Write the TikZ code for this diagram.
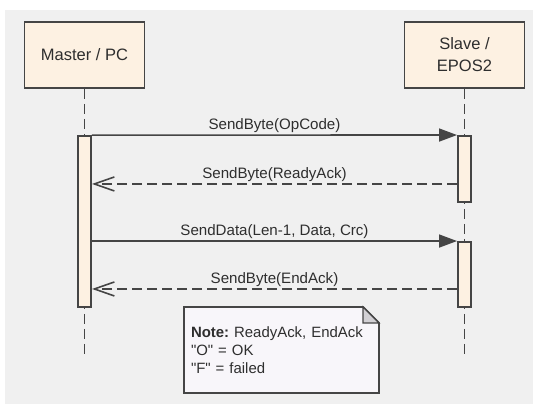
\documentclass[tikz,border=0pt]{standalone}
\usepackage{fontspec}
\setmainfont{Liberation Sans}
\usetikzlibrary{arrows.meta}
\definecolor{bggray}{HTML}{F0F0F0}
\definecolor{lifebox}{HTML}{FDF1E2}
\definecolor{edgegray}{HTML}{454545}
\definecolor{notefill}{HTML}{F8F6FA}
\definecolor{foldgray}{HTML}{D2D0D4}
\definecolor{txtgray}{HTML}{2E2E2E}

\begin{document}
\begin{tikzpicture}[x = 0.02cm, y = -0.02cm,
    actor/.style = {draw = edgegray, line width = 1.1pt, fill = lifebox, minimum width = 2.4cm, minimum height = 1.32cm, align = center, text = txtgray, font = \fontsize{9.4}{12.5}\selectfont},
    activity/.style = {draw = edgegray, line width = 1.1pt, fill = lifebox, minimum width = 0.26cm, inner sep = 0pt},
    lifeline/.style = {draw = edgegray, line width = 1.1pt, dash pattern = on 0.2cm off 0.1cm},
    call/.style = {draw = edgegray, line width = 0.9pt, -{Triangle[length = 0.36cm, width = 0.26cm]}},
    reply/.style = {draw = edgegray, line width = 0.9pt, dash pattern = on 0.2cm off 0.1cm, -{Straight Barb[length = 0.4cm, width = 0.28cm]}},
    msg/.style = {above = 0pt, inner sep = 1pt, text = txtgray, font = \fontsize{8.6}{10.2}\selectfont},
    notetext/.style = {text width = 3.62cm, inner xsep = 0.14cm, align = left, text = txtgray, font = \fontsize{8.5}{10.2}\selectfont\frenchspacing}]
    \fill [bggray] (5, 10) rectangle (533, 404);
    \useasboundingbox (0, 0) rectangle (537, 408);
    \node [actor] (master) at (84.5, 55) {Master / PC};
    \node [actor] (slave) at (464.5, 55) {Slave /\\EPOS2};
    \coordinate (mend) at (84.5, 355);
    \coordinate (send) at (464.5, 355);
    \draw [lifeline] (master) -- (mend);
    \draw [lifeline] (slave) -- (send);
    \node [activity, minimum height = 3.42cm] (mact) at (84.5, 221.5) {};
    \node [activity, minimum height = 1.32cm] (sact1) at (464.5, 169) {};
    \node [activity, minimum height = 1.3cm] (sact2) at (464.5, 274.5) {};
    \coordinate (r1) at ([yshift = 0.38cm]sact1.south west);
    \coordinate (r2) at ([yshift = 0.38cm]sact2.south west);
    \draw [call] (mact.north east) -- (sact1.north west) node [msg, midway] {SendByte(OpCode)};
    \draw [reply] (r1) -- (r1 -| mact.east) node [msg, midway] {SendByte(ReadyAck)};
    \draw [call] (mact.east |- sact2.north) -- (sact2.north west) node [msg, midway] {SendData(Len-1, Data, Crc)};
    \draw [reply] (r2) -- (r2 -| mact.east) node [msg, midway] {SendByte(EndAck)};
    \coordinate (nw) at (184, 307);
    \coordinate (se) at (379, 393);
    \coordinate (ne) at (se |- nw);
    \draw [draw = edgegray, line width = 1.1pt, fill = notefill] (nw) |- (se) -- ([yshift = -0.32cm]ne) -- ([xshift = -0.32cm]ne) -- cycle;
    \draw [draw = edgegray, line width = 0.7pt, fill = foldgray] ([xshift = -0.32cm]ne) -- ([yshift = -0.32cm]ne) -- ([xshift = -0.32cm, yshift = -0.32cm]ne) -- cycle;
    \node [notetext] (note) at (281.5, 350) {\textbf{Note:} ReadyAck, EndAck\\\textquotedbl O\textquotedbl{} = OK\\\textquotedbl F\textquotedbl{} = failed};
\end{tikzpicture}
\end{document}
